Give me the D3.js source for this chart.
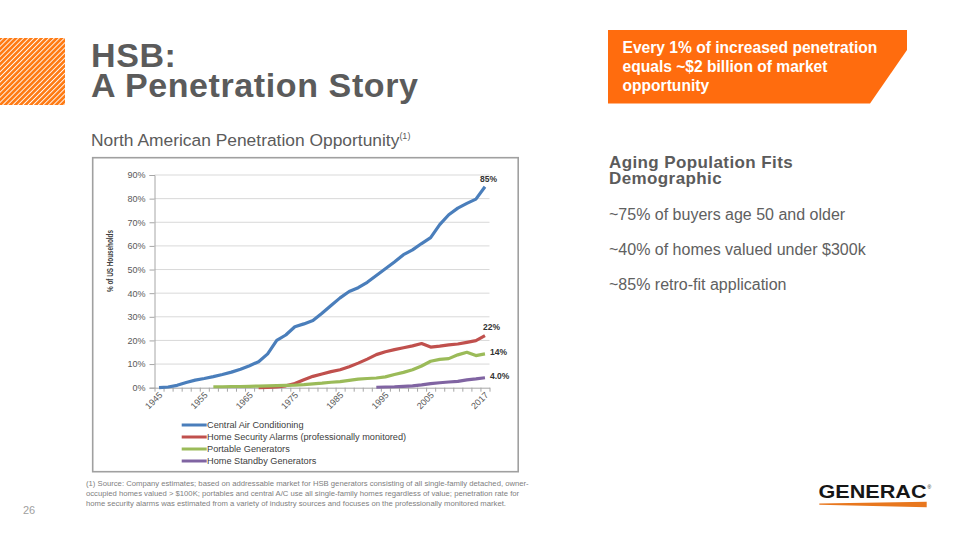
<!DOCTYPE html>
<html>
<head>
<meta charset="utf-8">
<script src="https://cdn.jsdelivr.net/npm/d3@7"></script>
<style>
  html, body { margin: 0; padding: 0; background: #ffffff; }
  svg { display: block; font-family: "Liberation Sans", Arial, Helvetica, sans-serif; }
</style>
</head>
<body>
<svg id="slide" width="959" height="540"></svg>
<script>
// ---------------- DATA ----------------
const years = [1945,1947,1949,1951,1953,1955,1957,1959,1961,1963,1965,1967,1969,1971,1973,1975,1977,1979,1981,1983,1985,1987,1989,1991,1993,1995,1997,1999,2001,2003,2005,2007,2009,2011,2013,2015,2017];
const centralAir = [0,0.3,1.0,2.2,3.2,3.9,4.7,5.6,6.6,7.8,9.3,11.0,14.3,20.0,22.3,25.8,27.0,28.4,31.5,34.8,38.0,40.7,42.3,44.6,47.5,50.3,53.2,56.3,58.3,61.0,63.5,69.0,73.2,76.0,78.0,79.8,85.0];
const securityAlarms = [null,null,null,null,null,null,null,null,null,null,null,0,0.1,0.3,0.8,1.8,3.4,4.8,5.8,6.8,7.6,8.9,10.4,12.1,14.0,15.2,16.1,16.9,17.7,18.7,17.2,17.6,18.1,18.5,19.2,19.9,22.0];
const portableGen = [null,null,null,null,null,null,0.4,0.4,0.5,0.5,0.6,0.7,0.8,0.9,1.0,1.1,1.3,1.6,1.9,2.3,2.6,3.1,3.6,3.9,4.1,4.6,5.6,6.5,7.6,9.2,11.2,12.0,12.3,13.9,15.0,13.6,14.3];
const standbyGen = [null,null,null,null,null,null,null,null,null,null,null,null,null,null,null,null,null,null,null,null,null,null,null,null,0.2,0.3,0.4,0.6,0.8,1.2,1.7,2.1,2.4,2.7,3.3,3.7,4.2];
const seriesNames = ["Central Air Conditioning","Home Security Alarms (professionally monitored)","Portable Generators","Home Standby Generators"];
const seriesColors = ["#4A7EBB","#C0504D","#9BBB59","#8064A2"];
const endLabels = ["85%","22%","14%","4.0%"];
const xLabelYears = [1945,1955,1965,1975,1985,1995,2005,2017];
const yTicks = [0,10,20,30,40,50,60,70,80,90];
const titleLines = ["HSB:","A Penetration Story"];
const headingLines = ["Aging Population Fits","Demographic"];
const bullets = ["~75% of buyers age 50 and older","~40% of homes valued under $300k","~85% retro-fit application"];
const footnote = [
  "(1) Source: Company estimates; based on addressable market for HSB generators consisting of all single-family detached, owner-",
  "occupied homes valued > $100K; portables and central A/C use all single-family homes regardless of value; penetration rate for",
  "home security alarms was estimated from a variety of industry sources and focuses on the professionally monitored market."
];
const calloutLines = ["Every 1% of increased penetration","equals ~$2 billion of market","opportunity"];

// ---------------- SLIDE ----------------
const svg = d3.select("#slide");
const grey = "#5b5b5b";
const orange = "#FF6C0E";

// hatched square
const defs = svg.append("defs");
const pat = defs.append("pattern").attr("id","hatch").attr("patternUnits","userSpaceOnUse")
  .attr("width",3.6).attr("height",3.6).attr("patternTransform","rotate(45)");
pat.append("rect").attr("width",3.6).attr("height",3.6).attr("fill","#FF7A12");
pat.append("line").attr("x1",0.5).attr("y1",0).attr("x2",0.5).attr("y2",3.6).attr("stroke","#ffffff").attr("stroke-width",0.9);
svg.append("rect").attr("x",0).attr("y",38).attr("width",65).attr("height",67).attr("fill","url(#hatch)");

// title (one text block, two lines)
const title = svg.append("text").attr("x",91).attr("y",66.7).attr("font-size",34).attr("font-weight","bold")
  .attr("letter-spacing",0.6).attr("fill",grey);
title.selectAll("tspan").data(titleLines).enter().append("tspan")
  .attr("x",91).attr("dy",(d,i)=>i===0?0:30.3).text(d=>d);

// subtitle
const sub = svg.append("text").attr("x",91).attr("y",145.5).attr("font-size",17.4).attr("fill",grey);
sub.append("tspan").text("North American Penetration Opportunity");
sub.append("tspan").attr("font-size",9).attr("dy",-7).text("(1)");

// callout
svg.append("polygon").attr("points","608,30 907,30 907,50 870,103.5 608,103.5").attr("fill",orange);
svg.selectAll("text.callout").data(calloutLines).enter().append("text").attr("class","callout")
  .attr("x",622.5).attr("y",(d,i)=>53.3+i*19).attr("font-size",15.6).attr("font-weight","bold")
  .attr("fill","#ffffff").text(d=>d);

// right heading (one text block, two lines)
const heading = svg.append("text").attr("x",609).attr("y",168).attr("font-size",17).attr("font-weight","bold")
  .attr("letter-spacing",0.4).attr("fill",grey);
heading.selectAll("tspan").data(headingLines).enter().append("tspan")
  .attr("x",609).attr("dy",(d,i)=>i===0?0:16.3).text(d=>d);

svg.selectAll("text.bullet").data(bullets).enter().append("text").attr("class","bullet")
  .attr("x",609).attr("y",(d,i)=>220+i*35).attr("font-size",16).attr("fill","#606060").text(d=>d);

// footnote
svg.selectAll("text.foot").data(footnote).enter().append("text").attr("class","foot")
  .attr("x",86).attr("y",(d,i)=>486+i*10).attr("font-size",7.7).attr("fill","#808080").text(d=>d);

// page number
svg.append("text").attr("x",23).attr("y",514).attr("font-size",11).attr("fill","#a0a0a0").text("26");

// logo
svg.append("text").attr("x",818.5).attr("y",498.3).attr("font-size",18.5).attr("font-weight","bold")
  .attr("textLength",108).attr("lengthAdjust","spacingAndGlyphs").attr("fill","#161616").text("GENERAC");
svg.append("text").attr("x",927.5).attr("y",489).attr("font-size",5).attr("fill","#161616").text("®");
svg.append("polygon").attr("points","819.3,503.4 926.7,501.8 926.7,507.3 819.3,504.7").attr("fill","#E8771E");

// ---------------- CHART ----------------
// chart frame
svg.append("rect").attr("x",92.7).attr("y",157.7).attr("width",425.5).attr("height",314)
  .attr("fill","#ffffff").attr("stroke","#a0a0a0").attr("stroke-width",1.6);

const x = d3.scaleLinear().domain([1944,2018]).range([154.5,489.5]);
const y = d3.scaleLinear().domain([0,90]).range([387.7,175]);

const chart = svg.append("g");

// gridlines
chart.selectAll("line.grid").data(yTicks.filter(d=>d>0)).enter().append("line").attr("class","grid")
  .attr("x1",x(1944)).attr("x2",x(2018)).attr("y1",d=>y(d)).attr("y2",d=>y(d))
  .attr("stroke","#d9d9d9").attr("stroke-width",1);

// y axis
const yAxis = chart.append("g").attr("transform",`translate(${x(1944)},0)`)
  .call(d3.axisLeft(y).tickValues(yTicks).tickFormat(d=>d+"%").tickSize(5).tickPadding(4));
yAxis.select(".domain").attr("stroke","#a6a6a6");
yAxis.selectAll(".tick line").attr("stroke","#a6a6a6");
yAxis.selectAll(".tick text").attr("font-size",9).attr("fill","#595959")
  .attr("font-family","'Liberation Sans', Arial, sans-serif");

// x axis
const tickYears = d3.range(1944,2019,2);
const xAxis = chart.append("g").attr("transform",`translate(0,${y(0)})`)
  .call(d3.axisBottom(x).tickValues(tickYears).tickFormat("").tickSize(4).tickSizeOuter(0));
xAxis.select(".domain").attr("stroke","#a6a6a6");
xAxis.selectAll(".tick line").attr("stroke","#a6a6a6");

chart.selectAll("text.xlab").data(xLabelYears).enter().append("text").attr("class","xlab")
  .attr("transform",d=>`translate(${x(d)+4},${y(0)+8}) rotate(-45)`)
  .attr("text-anchor","end").attr("font-size",9).attr("fill","#595959").text(d=>d);

// y axis title
chart.append("text").attr("transform","translate(113,261) rotate(-90)").attr("text-anchor","middle")
  .attr("font-size",8.5).attr("font-weight","bold").attr("fill","#404040")
  .attr("textLength",62).attr("lengthAdjust","spacingAndGlyphs").text("% of US Households");

// lines
const allSeries = [centralAir, securityAlarms, portableGen, standbyGen];
const line = d3.line().defined(d=>d[1]!==null).x(d=>x(d[0])).y(d=>y(d[1]));
allSeries.forEach((vals,i)=>{
  const pts = years.map((yr,j)=>[yr, vals[j]]);
  chart.append("path").datum(pts).attr("d",line).attr("fill","none")
    .attr("stroke",seriesColors[i]).attr("stroke-width",3.2).attr("stroke-linejoin","round");
});

// end labels
const lastYear = years[years.length-1];
const labelOffsets = [[-5,-5],[-2,-6],[5,1],[5,1]];
allSeries.forEach((vals,i)=>{
  chart.append("text").attr("x",x(lastYear)+labelOffsets[i][0]).attr("y",y(vals[vals.length-1])+labelOffsets[i][1])
    .attr("font-size",8.5).attr("font-weight","bold").attr("fill","#333333").text(endLabels[i]);
});

// legend
const legend = chart.append("g");
seriesNames.forEach((name,i)=>{
  const ly = 425 + i*12;
  legend.append("line").attr("x1",181.7).attr("x2",206.7).attr("y1",ly).attr("y2",ly)
    .attr("stroke",seriesColors[i]).attr("stroke-width",3);
  legend.append("text").attr("x",207).attr("y",ly+3.2).attr("font-size",9.2).attr("fill","#404040").text(name);
});
</script>
</body>
</html>
